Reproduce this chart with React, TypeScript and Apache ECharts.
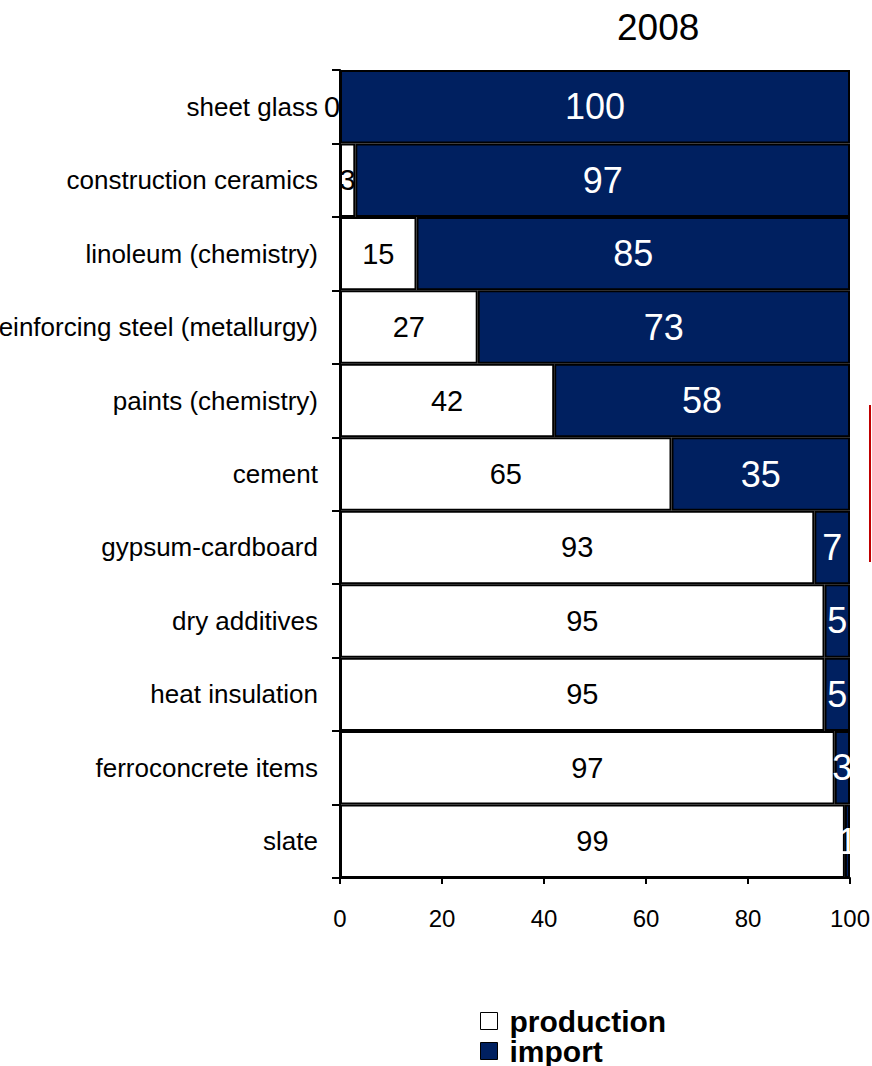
import React, { useEffect, useRef } from "react";
import * as echarts from "echarts";

const categories = [
  "sheet glass",
  "construction ceramics",
  "linoleum (chemistry)",
  "reinforcing steel (metallurgy)",
  "paints (chemistry)",
  "cement",
  "gypsum-cardboard",
  "dry additives",
  "heat insulation",
  "ferroconcrete items",
  "slate",
];
const production = [0, 3, 15, 27, 42, 65, 93, 95, 95, 97, 99];
const importShare = [100, 97, 85, 73, 58, 35, 7, 5, 5, 3, 1];
const xTicks = { min: 0, max: 100, interval: 20 };
const title = "2008";

const FONT = "'Liberation Sans', Arial, sans-serif";
const NAVY = "#002060";

export default function App() {
  const ref = useRef<HTMLDivElement>(null);
  useEffect(() => {
    document.body.style.margin = "0";
    const chart = echarts.init(ref.current!, null, { renderer: "svg" });
    chart.setOption({
      animation: false,
      backgroundColor: "#ffffff",
      textStyle: { fontFamily: FONT },
      title: {
        text: title,
        left: 612,
        top: 4,
        textStyle: { fontFamily: FONT, fontSize: 37, fontWeight: "normal", color: "#000" },
      },
      legend: {
        orient: "vertical",
        left: 480,
        top: 1006,
        height: 120,
        itemWidth: 17,
        itemHeight: 17,
        itemGap: 0,
        padding: 0,
        icon: "rect",
        itemStyle: { borderColor: "#000", borderWidth: 1 },
        textStyle: {
          fontFamily: FONT,
          fontSize: 30,
          fontWeight: "bold",
          color: "#000",
          lineHeight: 29,
          padding: [0, 0, 0, 7],
        },
        data: ["production", "import"],
      },
      grid: {
        left: 340,
        right: 22,
        top: 70,
        bottom: 188,
        containLabel: false,
        outerBoundsMode: "none",
      },
      xAxis: {
        type: "value",
        min: xTicks.min,
        max: xTicks.max,
        interval: xTicks.interval,
        axisLine: { show: true, lineStyle: { color: "#000", width: 2 } },
        axisTick: { show: true, length: 6, lineStyle: { color: "#000", width: 2 } },
        splitLine: { show: false },
        axisLabel: { color: "#000", fontSize: 24, fontFamily: FONT, margin: 28 },
      },
      yAxis: {
        type: "category",
        inverse: true,
        data: categories,
        axisLine: { show: true, lineStyle: { color: "#000", width: 2 } },
        axisTick: { show: true, length: 8, lineStyle: { color: "#000", width: 2 } },
        axisLabel: { color: "#000", fontSize: 26, fontFamily: FONT, margin: 22 },
      },
      series: [
        {
          name: "production",
          type: "bar",
          stack: "total",
          barCategoryGap: 0,
          data: production.map((v) => (v === 0 ? { value: v, label: { offset: [-8, 0] } } : v)),
          itemStyle: { color: "#ffffff", borderColor: "#000", borderWidth: 2 },
          label: {
            show: true,
            position: "inside",
            color: "#000",
            fontSize: 29,
            fontFamily: FONT,
          },
        },
        {
          name: "import",
          type: "bar",
          stack: "total",
          barCategoryGap: 0,
          data: importShare,
          itemStyle: { color: NAVY, borderColor: "#000", borderWidth: 2 },
          label: {
            show: true,
            position: "inside",
            color: "#fff",
            fontSize: 36,
            fontFamily: FONT,
          },
        },
      ],
      graphic: [
        {
          type: "line",
          shape: { x1: 870, y1: 405, x2: 870, y2: 562 },
          style: { stroke: "#c00000", lineWidth: 2 },
        },
      ],
    });
    return () => chart.dispose();
  }, []);
  return <div ref={ref} style={{ width: 872, height: 1066 }} />;
}
